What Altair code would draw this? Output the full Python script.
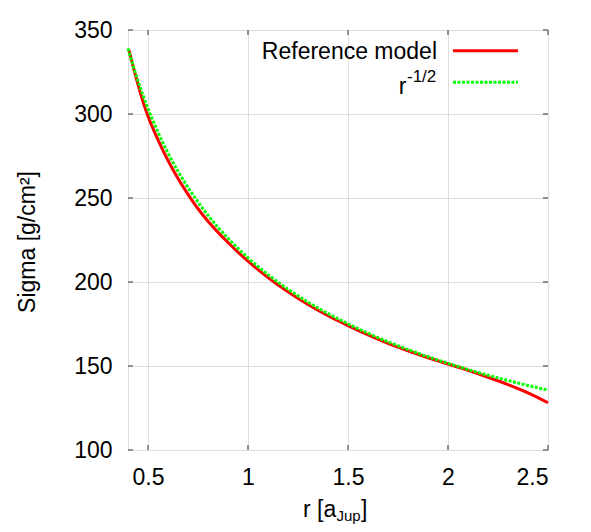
import altair as alt
import pandas as pd

# Reference model
r_ref = [0.405, 0.435, 0.48, 0.5, 0.55, 0.6, 0.65, 0.7, 0.75, 0.8, 0.9, 1.0, 1.1, 1.2, 1.3,
         1.4, 1.5, 1.6, 1.7, 1.8, 1.9, 2.0, 2.1, 2.2, 2.3, 2.4, 2.5]
sigma_ref = [338, 324, 305.5, 298.7, 284.6, 272.3, 261.6, 252.2, 243.6, 236.2, 223.5, 212.4, 202.7,
             194.2, 186.6, 179.9, 174.0, 168.5, 163.5, 159.0, 154.9, 151.2, 147.4, 143.3, 138.9, 134.0, 128.1]

# r^-1/2 curve
r_pow = [0.4, 0.45, 0.5, 0.55, 0.6, 0.65, 0.7, 0.75, 0.8, 0.85, 0.9, 1.0, 1.1, 1.2, 1.3,
         1.4, 1.5, 1.6, 1.7, 1.8, 1.9, 2.0, 2.1, 2.2, 2.3, 2.4, 2.5]
sigma_pow = [339, 319.6, 303.2, 289.1, 276.8, 265.9, 256.3, 247.6, 239.7, 232.5, 226.0, 214.4, 204.4,
             195.7, 188.0, 181.2, 175.1, 169.5, 164.4, 159.8, 155.5, 151.6, 147.9, 144.5, 141.4, 138.4, 135.6]

x_ticks = [0.5, 1, 1.5, 2, 2.5]
y_ticks = [100, 150, 200, 250, 300, 350]

legend_labels = ["Reference model", "r", "-1/2"]
x_title_parts = ["r [a", "Jup", "]"]
y_title = "Sigma [g/cm²]"

W = H = 420
FONT = "Liberation Sans"
RED = "#ff0000"
GREEN = "#00ff00"
FRAME = "#707070"

xs = alt.Scale(domain=[0.4, 2.5], nice=False, zero=False)
ys = alt.Scale(domain=[100, 350], nice=False, zero=False)

ref_df = pd.DataFrame({"r": r_ref, "sigma": sigma_ref})
pow_df = pd.DataFrame({"r": r_pow, "sigma": sigma_pow})
xt_df = pd.DataFrame({"r": x_ticks})
yt_df = pd.DataFrame({"sigma": y_ticks})
one = pd.DataFrame({"k": [0]})

x_enc = alt.X("r:Q", scale=xs, axis=alt.Axis(values=x_ticks, format="~g", title=None, grid=True,
                                            ticks=False, domain=False, labelFontSize=23,
                                            labelPadding=16, labelColor="black", labelFont=FONT))
y_enc = alt.Y("sigma:Q", scale=ys, axis=alt.Axis(values=y_ticks, format="d", title=None, grid=True,
                                                ticks=False, domain=False, labelFontSize=23,
                                                labelPadding=16, labelColor="black", labelFont=FONT))

ref_line = alt.Chart(ref_df).mark_line(color=RED, strokeWidth=3, interpolate="monotone").encode(
    x=x_enc, y=y_enc)
pow_line = alt.Chart(pow_df).mark_line(color=GREEN, strokeWidth=3, strokeDash=[3, 1.5],
                                       interpolate="monotone").encode(
    x=alt.X("r:Q", scale=xs), y=alt.Y("sigma:Q", scale=ys))

# inward ticks (gnuplot style)
tick_kw = dict(color=FRAME, strokeWidth=1.5)
xb = alt.Chart(xt_df).mark_rule(**tick_kw).encode(x=alt.X("r:Q", scale=xs), y=alt.value(H), y2=alt.value(H - 5))
xtp = alt.Chart(xt_df).mark_rule(**tick_kw).encode(x=alt.X("r:Q", scale=xs), y=alt.value(0), y2=alt.value(5))
yl = alt.Chart(yt_df).mark_rule(**tick_kw).encode(y=alt.Y("sigma:Q", scale=ys), x=alt.value(0), x2=alt.value(5))
yr = alt.Chart(yt_df).mark_rule(**tick_kw).encode(y=alt.Y("sigma:Q", scale=ys), x=alt.value(W), x2=alt.value(W - 5))

# legend
leg_red = alt.Chart(one).mark_rule(color=RED, strokeWidth=3).encode(
    x=alt.value(325), x2=alt.value(390), y=alt.value(20.7))
leg_green = alt.Chart(one).mark_rule(color=GREEN, strokeWidth=3, strokeDash=[3, 1.5]).encode(
    x=alt.value(325), x2=alt.value(390), y=alt.value(52.3))
leg_t1 = alt.Chart(one).mark_text(text=legend_labels[0], align="right", baseline="alphabetic",
                                  fontSize=23, font=FONT, color="black").encode(
    x=alt.value(309), y=alt.value(28.5))
leg_t2 = alt.Chart(one).mark_text(text=legend_labels[1], align="right", baseline="alphabetic",
                                  fontSize=23, font=FONT, color="black").encode(
    x=alt.value(278.5), y=alt.value(64))
leg_t3 = alt.Chart(one).mark_text(text=legend_labels[2], align="left", baseline="alphabetic",
                                  fontSize=17, font=FONT, color="black").encode(
    x=alt.value(279), y=alt.value(51.5))

# axis titles
xt1 = alt.Chart(one).mark_text(text=x_title_parts[0], align="left", baseline="alphabetic",
                               fontSize=23, font=FONT, color="black").encode(
    x=alt.value(175), y=alt.value(487))
xt2 = alt.Chart(one).mark_text(text=x_title_parts[1], align="left", baseline="alphabetic",
                               fontSize=15, font=FONT, color="black").encode(
    x=alt.value(208.5), y=alt.value(490.5))
xt3 = alt.Chart(one).mark_text(text=x_title_parts[2], align="left", baseline="alphabetic",
                               fontSize=23, font=FONT, color="black").encode(
    x=alt.value(233), y=alt.value(487))
ytl = alt.Chart(one).mark_text(text=y_title, align="center", baseline="middle", angle=270,
                               fontSize=23, font=FONT, color="black").encode(
    x=alt.value(-100), y=alt.value(212))

chart = alt.layer(
    ref_line, pow_line, xb, xtp, yl, yr,
    leg_red, leg_green, leg_t1, leg_t2, leg_t3,
    xt1, xt2, xt3, ytl,
).properties(
    width=W, height=H,
    padding={"left": 120, "top": 22, "right": 35, "bottom": 74},
    autosize=alt.AutoSizeParams(type="none"),
).configure_view(
    stroke=FRAME, strokeWidth=1.5
).configure_axis(
    gridColor="#b0b0b0", gridDash=[1, 2], gridWidth=1
).configure(font=FONT)

chart.save("out.html", embed_options={"renderer": "svg", "actions": False})
